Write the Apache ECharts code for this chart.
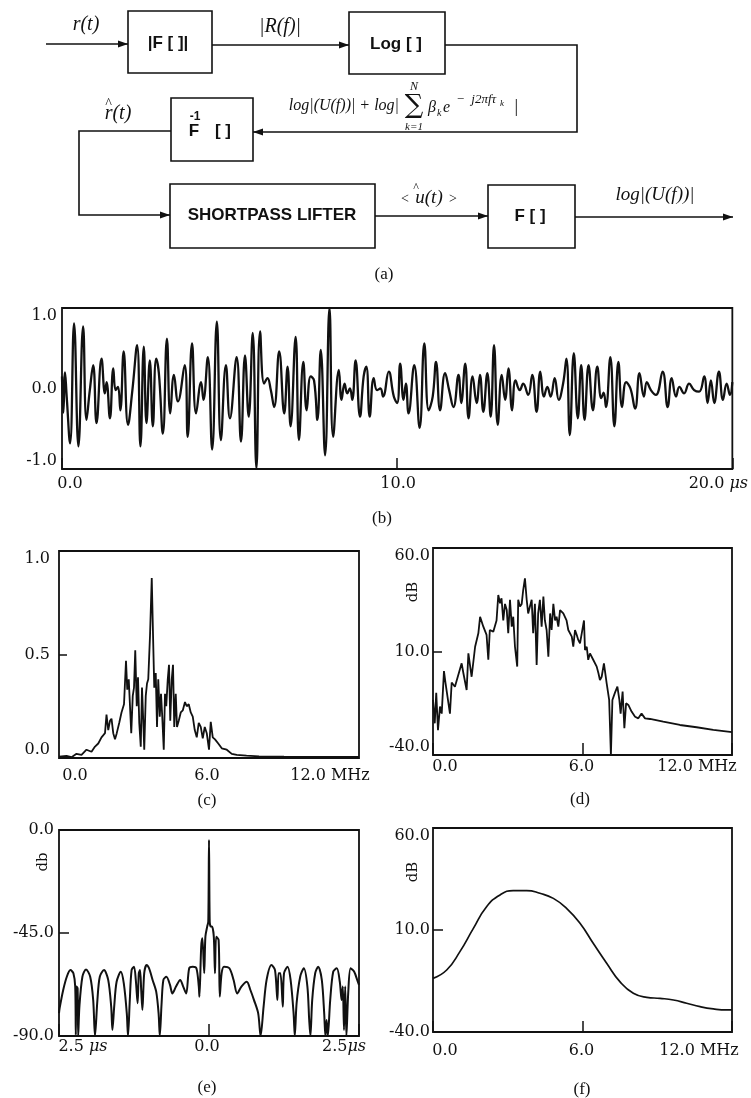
<!DOCTYPE html>
<html><head><meta charset="utf-8">
<script src="https://cdn.jsdelivr.net/npm/echarts@6/dist/echarts.min.js"></script>
<style>html,body{margin:0;padding:0;background:#fff}#c{width:751px;height:1098px}</style>
</head><body><div id="c"></div>
<script>
// ---------------- data ----------------
// (b) received signal r(t), time in microseconds
const bTime = [0.00,0.04,0.09,0.14,0.24,0.36,0.49,0.63,0.73,0.83,0.93,1.03,1.18,1.28,1.33,1.43,1.53,1.60,1.67,1.74,1.84,1.97,2.10,2.24,2.34,2.44,2.52,2.62,2.71,2.81,2.89,3.01,3.13,3.23,3.34,3.46,3.66,3.75,3.88,4.00,4.15,4.22,4.35,4.48,4.62,4.74,4.89,5.01,5.21,5.34,5.46,5.57,5.69,5.80,5.91,6.03,6.13,6.23,6.33,6.48,6.63,6.73,6.82,6.97,7.07,7.20,7.30,7.42,7.52,7.62,7.72,7.85,7.98,8.09,8.26,8.34,8.43,8.51,8.59,8.66,8.76,8.89,9.00,9.08,9.18,9.30,9.40,9.50,9.58,9.75,9.90,10.00,10.09,10.19,10.26,10.34,10.51,10.67,10.81,10.94,11.06,11.16,11.28,11.43,11.55,11.68,11.83,11.91,12.03,12.13,12.25,12.37,12.47,12.57,12.69,12.79,12.89,13.00,13.12,13.22,13.32,13.43,13.53,13.66,13.76,13.91,14.03,14.16,14.27,14.38,14.48,14.58,14.70,14.82,14.95,15.05,15.15,15.27,15.39,15.49,15.59,15.71,15.84,15.97,16.09,16.16,16.23,16.36,16.48,16.60,16.71,16.83,16.96,17.10,17.23,17.36,17.45,17.57,17.72,17.92,18.07,18.19,18.32,18.42,18.56,18.71,18.86,19.01,19.16,19.26,19.36,19.46,19.60,19.72,19.83,19.93,20.00];
const bAmp = [0.15,-0.30,0.20,-0.10,-0.68,0.81,-0.72,0.77,-0.39,-0.02,0.29,-0.43,0.37,-0.06,0.08,-0.37,0.25,-0.02,0.02,-0.27,0.46,-0.45,-0.02,0.54,-0.72,0.52,-0.43,0.35,-0.47,0.37,0.19,-0.56,0.62,-0.31,0.17,-0.16,0.29,-0.60,0.56,-0.31,0.08,-0.14,0.39,-0.76,0.83,-0.64,0.29,-0.37,0.39,-0.66,0.41,-0.35,0.69,-0.99,0.71,0.06,0.13,-0.02,-0.23,0.46,-0.31,0.27,-0.47,0.64,-0.64,0.33,-0.27,0.15,0.10,-0.39,0.48,-0.83,1.00,-0.60,0.23,-0.14,0.06,-0.06,0.00,-0.14,0.35,-0.35,0.15,0.27,-0.35,0.13,-0.02,0.00,-0.10,0.21,-0.10,-0.18,0.31,-0.14,0.06,-0.31,0.29,-0.49,0.56,-0.27,-0.10,0.33,-0.27,0.19,-0.02,-0.23,0.17,-0.18,0.31,-0.37,0.15,-0.18,0.17,-0.29,0.19,-0.35,0.54,-0.45,0.17,-0.14,0.25,-0.27,0.10,-0.02,0.06,-0.08,0.17,-0.29,0.21,-0.10,0.02,-0.10,0.13,-0.14,0.06,0.37,-0.58,0.44,-0.37,0.29,-0.39,0.29,-0.27,0.27,-0.12,-0.05,-0.23,0.39,-0.47,0.33,-0.23,0.08,0.00,-0.25,0.19,-0.10,0.08,-0.02,-0.08,0.21,-0.23,0.13,-0.10,0.02,-0.06,0.06,-0.02,-0.04,0.15,-0.18,0.10,-0.18,0.21,-0.14,0.06,-0.08,0.08];

// (c) magnitude spectrum |R(f)|, MHz
const cFreq = [0,0.3,0.5,0.7,0.9,1.1,1.3,1.44,1.57,1.7,1.84,1.9,1.97,2.04,2.1,2.17,2.24,2.31,2.41,2.5,2.6,2.68,2.73,2.79,2.84,2.89,2.95,3.0,3.05,3.11,3.16,3.21,3.27,3.32,3.37,3.41,3.47,3.52,3.57,3.64,3.71,3.76,3.81,3.87,3.92,3.97,4.03,4.08,4.13,4.19,4.24,4.29,4.35,4.40,4.45,4.51,4.56,4.61,4.67,4.72,4.79,4.87,4.95,5.04,5.11,5.19,5.27,5.35,5.43,5.51,5.59,5.67,5.75,5.83,5.91,6.0,6.07,6.15,6.24,6.37,6.51,6.71,6.91,7.11,7.5,8.0,9.0,10.0,11.0,12.0];
const cMag = [0.006,0.01,0.004,0.02,0.015,0.04,0.03,0.055,0.07,0.10,0.12,0.21,0.135,0.18,0.19,0.12,0.09,0.12,0.17,0.22,0.26,0.47,0.33,0.38,0.25,0.12,0.30,0.34,0.52,0.25,0.39,0.17,0.055,0.34,0.18,0.04,0.30,0.36,0.38,0.59,0.87,0.60,0.34,0.41,0.15,0.38,0.20,0.31,0.20,0.04,0.31,0.25,0.38,0.45,0.18,0.38,0.45,0.15,0.31,0.15,0.18,0.22,0.23,0.27,0.25,0.26,0.22,0.20,0.135,0.10,0.17,0.15,0.095,0.15,0.12,0.04,0.175,0.10,0.09,0.07,0.047,0.04,0.02,0.015,0.011,0.008,0.006,0.005,0.005,0.005];

// (d) log spectrum, dB
const dFreq = [0,0.07,0.13,0.2,0.28,0.35,0.44,0.5,0.68,0.75,0.88,1.0,1.15,1.22,1.35,1.42,1.55,1.69,1.82,1.89,2.02,2.15,2.22,2.28,2.42,2.55,2.62,2.69,2.75,2.82,2.89,2.96,3.02,3.09,3.16,3.22,3.29,3.38,3.42,3.49,3.56,3.62,3.69,3.76,3.82,3.89,3.96,4.02,4.09,4.16,4.22,4.29,4.36,4.43,4.49,4.56,4.63,4.70,4.76,4.83,4.9,4.96,5.03,5.1,5.23,5.36,5.43,5.57,5.63,5.7,5.77,5.83,5.9,5.97,6.06,6.1,6.17,6.23,6.3,6.43,6.57,6.64,6.7,6.77,6.86,6.97,7.07,7.14,7.2,7.3,7.4,7.48,7.53,7.61,7.68,7.75,7.84,7.97,8.11,8.24,8.37,8.51,8.71,9.24,9.91,10.58,11.25,12.0];
const dLevel = [-13.4,-24.7,-10,-28,-16.6,-20,0.5,-5,-20,-5,-7,-2,4.3,-0.5,-8.6,9.1,-2.2,12.3,18.8,26.8,22,18,6,20.4,19.6,25,37.3,33.3,35.7,25,33,30,18.8,35,22,26.8,12.3,2.7,35,31.7,33,39.7,45.3,35,28.4,31.7,35,18.8,33,3.5,28.4,35,22,36.5,25,20.4,7.5,28.4,20.4,33,25,26.8,22,30,28.4,25,20.4,17.2,12.3,20.4,18,15.6,14,18.8,25,10.7,12.3,6,9.1,6,2.7,-0.5,-3.8,-2.2,4.3,-5.4,-13.4,-40,-13.4,-10,-7,-13.4,-20,-9.4,-27,-15,-15.8,-19,-21.5,-22.3,-20,-22.3,-22.6,-23.9,-25.5,-26.6,-27.9,-29];

// (e) correlation, db, time in microseconds
const eTime = [-2.5,-2.49,-2.43,-2.37,-2.31,-2.26,-2.23,-2.22,-2.21,-2.19,-2.18,-2.16,-2.11,-2.05,-1.98,-1.93,-1.9,-1.86,-1.82,-1.75,-1.68,-1.63,-1.61,-1.58,-1.54,-1.47,-1.42,-1.37,-1.35,-1.32,-1.29,-1.25,-1.22,-1.19,-1.17,-1.15,-1.13,-1.11,-1.08,-1.04,-1.0,-0.94,-0.88,-0.84,-0.82,-0.79,-0.76,-0.71,-0.65,-0.61,-0.55,-0.48,-0.43,-0.38,-0.33,-0.27,-0.21,-0.17,-0.16,-0.13,-0.11,-0.08,-0.06,-0.03,-0.012,0,0.012,0.03,0.05,0.08,0.1,0.12,0.16,0.18,0.21,0.25,0.34,0.41,0.47,0.54,0.63,0.69,0.75,0.82,0.86,0.91,0.96,1.04,1.1,1.14,1.16,1.19,1.23,1.25,1.31,1.36,1.41,1.43,1.46,1.52,1.58,1.64,1.67,1.69,1.72,1.77,1.82,1.88,1.92,1.94,1.96,1.98,2.02,2.07,2.13,2.18,2.21,2.23,2.25,2.27,2.29,2.32,2.36,2.42,2.47,2.5];
const eLevel = [-80,-77.9,-69.9,-64.1,-61.2,-62.6,-68.4,-89.6,-68.4,-69.2,-90,-77.2,-64.1,-60.9,-64.1,-74.3,-90,-74.3,-64.1,-61.2,-65.5,-77.2,-87.4,-77.2,-66.3,-61.9,-67,-80.1,-90,-74.3,-61.2,-59.7,-65.5,-75.7,-62.6,-61.2,-69.9,-78.6,-62.6,-59,-60.4,-65.5,-70.6,-80.1,-90,-75.7,-65.5,-64.1,-67.7,-71.4,-68.4,-65.5,-68.4,-71.4,-60.4,-59.7,-60.4,-68.4,-72.8,-51,-47.3,-62.6,-46.6,-42.2,-40,-4.4,-40,-42.2,-42.2,-46.6,-62.6,-46.6,-48,-72.8,-62.6,-59.7,-60.4,-65.5,-71.4,-68.4,-66.3,-69.9,-74.3,-80.1,-90,-77.2,-65.5,-59,-61.2,-74.3,-62.6,-62.6,-77.2,-62.6,-59.7,-65.5,-80.1,-90,-75.7,-64.1,-60.4,-68.4,-83,-90,-74.3,-62.6,-59.7,-65.5,-80.1,-90,-83,-90,-74.3,-61.9,-60.4,-66.3,-74.3,-68.4,-87.4,-68.4,-90,-71.4,-60.4,-61.9,-65.5,-67.7];

// (f) estimated wavelet spectrum, dB
const fFreq = [0,0.55,1.08,1.62,2.15,2.69,3.22,3.76,4.29,4.83,5.36,5.9,6.43,6.97,7.5,8.04,8.58,9.11,9.65,10.18,10.72,11.25,11.79,12];
const fLevel = [-13.7,-9.6,-0.6,10.8,21.4,27.2,29.3,29.3,28,25.5,20.6,13.3,3.5,-6.3,-15.3,-21,-23,-23.5,-24.3,-25.9,-27.6,-28.7,-29.2,-29.2];

// tick label texts
const bXLabels = ['0.0', '10.0', '20.0 '];
const freqXLabels = ['0.0', '6.0', '12.0 '];
const eXLabels = ['2.5 ', '0.0', '2.5'];
const usUnit = 'μs';
const mhzUnit = 'MHz';

// ---------------- chart ----------------
const K = '#111';
const SERIF = 'DejaVu Serif';
const zip = (a, b) => a.map((v, i) => [v, b[i]]);

function xLabel(list, margin) {
  const rich = {};
  list.forEach((L, i) => {
    L.parts.forEach((p, j) => {
      const pad = [0, 0, 0, 0];
      if (L.shift > 0 && j === 0) pad[3] = 2 * L.shift;
      if (L.shift < 0 && j === L.parts.length - 1) pad[1] = -2 * L.shift;
      rich['t' + i + '_' + j] = { fontFamily: SERIF, fontSize: 16, color: K,
        fontStyle: p[1] ? 'italic' : 'normal', padding: pad };
    });
  });
  return {
    show: true, margin: margin, color: K, fontFamily: SERIF, fontSize: 16,
    showMinLabel: true, showMaxLabel: true, hideOverlap: false,
    formatter: function (val) {
      const i = list.findIndex(L => Math.abs(L.v - val) < 1e-6);
      if (i < 0) return '';
      return list[i].parts.map((p, j) => '{t' + i + '_' + j + '|' + p[0] + '}').join('');
    },
    rich: rich
  };
}
function yLabel(margin, vmin, vmax) {
  return { show: true, margin: margin, color: K, fontFamily: SERIF, fontSize: 16,
    showMinLabel: true, showMaxLabel: true, hideOverlap: false,
    verticalAlignMinLabel: vmin, verticalAlignMaxLabel: vmax,
    formatter: v => v.toFixed(1) };
}
const tick = (len) => ({ show: len > 0, inside: true, length: len, lineStyle: { color: K, width: 1.5 } });
const noLine = { show: false, onZero: false };
const noSplit = { show: false };

const grids = [
  { left: 62, top: 308, width: 673, height: 161 },
  { left: 59, top: 551, width: 300, height: 207 },
  { left: 433, top: 548, width: 299, height: 207 },
  { left: 59, top: 830, width: 300, height: 206 },
  { left: 433, top: 828, width: 299, height: 204 }
].map(g => Object.assign({ show: true, borderColor: K, borderWidth: 1.8, backgroundColor: 'transparent' }, g));

const xAxes = [
  { gridIndex: 0, min: 0, max: 20, interval: 10, axisTick: tick(11),
    axisLabel: xLabel([{ v: 0, parts: [[bXLabels[0], 0]], shift: 8 }, { v: 10, parts: [[bXLabels[1], 0]], shift: 1 }, { v: 20, parts: [[bXLabels[2], 0], [usUnit, 1]], shift: -14 }], 7) },
  { gridIndex: 1, min: 0, max: 12, interval: 6, axisTick: tick(0),
    axisLabel: xLabel([{ v: 0, parts: [[freqXLabels[0], 0]], shift: 16 }, { v: 6, parts: [[freqXLabels[1], 0]], shift: -2 }, { v: 12, parts: [[freqXLabels[2] + mhzUnit, 0]], shift: -29 }], 10) },
  { gridIndex: 2, min: 0, max: 12, interval: 6, axisTick: tick(12),
    axisLabel: xLabel([{ v: 0, parts: [[freqXLabels[0], 0]], shift: 12 }, { v: 6, parts: [[freqXLabels[1], 0]], shift: -1 }, { v: 12, parts: [[freqXLabels[2] + mhzUnit, 0]], shift: -35 }], 4) },
  { gridIndex: 3, min: -2.5, max: 2.5, interval: 2.5, axisTick: tick(12),
    axisLabel: xLabel([{ v: -2.5, parts: [[eXLabels[0], 0], [usUnit, 1]], shift: 24 }, { v: 0, parts: [[eXLabels[1], 0]], shift: -2 }, { v: 2.5, parts: [[eXLabels[2], 0], [usUnit, 1]], shift: -15 }], 3) },
  { gridIndex: 4, min: 0, max: 12, interval: 6, axisTick: tick(11),
    axisLabel: xLabel([{ v: 0, parts: [[freqXLabels[0], 0]], shift: 12 }, { v: 6, parts: [[freqXLabels[1], 0]], shift: -1 }, { v: 12, parts: [[freqXLabels[2] + mhzUnit, 0]], shift: -33 }], 11) }
].map(a => Object.assign({ type: 'value', position: 'bottom', axisLine: noLine, splitLine: noSplit }, a));

const yAxes = [
  { gridIndex: 0, min: -1, max: 1, interval: 1, axisTick: tick(0), axisLabel: yLabel(5, 'bottom', 'top') },
  { gridIndex: 1, min: 0, max: 1, interval: 0.5, axisTick: tick(8), axisLabel: yLabel(9, 'bottom', 'top') },
  { gridIndex: 2, min: -40, max: 60, interval: 50, axisTick: tick(9), axisLabel: yLabel(3, 'bottom', 'top') },
  { gridIndex: 3, min: -90, max: 0, interval: 45, axisTick: tick(10), axisLabel: yLabel(5, 'middle', 'middle') },
  { gridIndex: 4, min: -40, max: 60, interval: 50, axisTick: tick(10), axisLabel: yLabel(3, 'middle', 'top') }
].map(a => Object.assign({ type: 'value', position: 'left', axisLine: noLine, splitLine: noSplit }, a));

function line(i, data, width, smooth) {
  return { type: 'line', xAxisIndex: i, yAxisIndex: i, data: data, showSymbol: false, symbol: 'none',
    smooth: smooth, lineStyle: { color: K, width: width }, silent: true, clip: true };
}
const series = [
  line(0, zip(bTime, bAmp), 2.3, 0.45),
  line(1, zip(cFreq, cMag), 1.8, false),
  line(2, zip(dFreq, dLevel), 1.8, false),
  line(3, zip(eTime, eLevel), 2, 0.3),
  line(4, zip(fFreq, fLevel), 1.7, true)
];

// ---------------- block diagram (a) and captions ----------------
const LW = 1.6;
const SANS = '600 17px "Liberation Sans"';
const MATH = 'italic 20px "Liberation Serif"';
function box(x, y, w, h) { return { type: 'rect', shape: { x, y, width: w, height: h }, style: { fill: 'none', stroke: K, lineWidth: LW } }; }
function poly(points) { return { type: 'polyline', shape: { points }, style: { fill: 'none', stroke: K, lineWidth: LW } }; }
function arrowR(x, y) { return { type: 'polygon', shape: { points: [[x, y], [x - 10, y - 3.5], [x - 10, y + 3.5]] }, style: { fill: K } }; }
function arrowL(x, y) { return { type: 'polygon', shape: { points: [[x, y], [x + 10, y - 3.5], [x + 10, y + 3.5]] }, style: { fill: K } }; }
function txt(x, y, text, font, align) { return { type: 'text', style: { x, y, text, font, fill: K, textAlign: align || 'center', textVerticalAlign: 'middle' } }; }
function vtxt(x, y, text, font) { return { type: 'text', x: x, y: y, rotation: Math.PI / 2, style: { x: 0, y: 0, text, font, fill: K, textAlign: 'center', textVerticalAlign: 'middle' } }; }

const graphic = [
  poly([[46, 44], [128, 44]]), arrowR(128, 44),
  txt(86, 25, 'r(t)', MATH),
  box(128, 11, 84, 62), txt(168, 43, '|F [ ]|', SANS),
  poly([[212, 45], [349, 45]]), arrowR(349, 45),
  txt(280, 27, '|R(f)|', MATH),
  box(349, 12, 96, 62), txt(396, 44, 'Log [ ]', SANS),
  poly([[445, 45], [577, 45], [577, 132], [253, 132]]), arrowL(253, 132),
  box(171, 98, 82, 63),
  txt(194, 131, 'F', SANS), txt(195, 117, '-1', '600 12px "Liberation Sans"'), txt(223, 131, '[ ]', SANS),
  txt(118, 114, 'r(t)', MATH), txt(108, 104, '^', 'italic 14px "Liberation Serif"'),
  // equation
  txt(399, 106, 'log|(U(f))| + log|', 'italic 16px "Liberation Serif"', 'right'),
  txt(414, 106, '∑', '26px "DejaVu Serif"'),
  txt(414, 87, 'N', 'italic 12px "Liberation Serif"'),
  txt(414, 127, 'k=1', 'italic 11px "Liberation Serif"'),
  txt(428, 108, 'β', 'italic 16px "Liberation Serif"', 'left'),
  txt(437, 113, 'k', 'italic 10px "Liberation Serif"', 'left'),
  txt(443, 108, 'e', 'italic 16px "Liberation Serif"', 'left'),
  txt(456, 100, '−  j2πfτ', 'italic 13px "Liberation Serif"', 'left'),
  txt(500, 104, 'k', 'italic 9px "Liberation Serif"', 'left'),
  txt(516, 107, '|', 'italic 18px "Liberation Serif"'),
  poly([[171, 131], [79, 131], [79, 215], [170, 215]]), arrowR(170, 215),
  box(170, 184, 205, 64), txt(272, 215, 'SHORTPASS LIFTER', SANS),
  poly([[375, 216], [488, 216]]), arrowR(488, 216),
  txt(405, 199, '<', '14px "Liberation Serif"'), txt(429, 198, 'u(t)', 'italic 19px "Liberation Serif"'), txt(453, 199, '>', '14px "Liberation Serif"'),
  txt(416, 188, '^', '12px "Liberation Serif"'),
  box(488, 185, 87, 63), txt(530, 216, 'F [ ]', SANS),
  poly([[575, 217], [733, 217]]), arrowR(733, 217),
  txt(655, 195, 'log|(U(f))|', 'italic 19px "Liberation Serif"'),
  // captions
  txt(384, 275, '(a)', '17px "Liberation Serif"'),
  txt(382, 519, '(b)', '17px "Liberation Serif"'),
  txt(207, 801, '(c)', '17px "Liberation Serif"'),
  txt(580, 800, '(d)', '17px "Liberation Serif"'),
  txt(207, 1088, '(e)', '17px "Liberation Serif"'),
  txt(582, 1090, '(f)', '17px "Liberation Serif"'),
  // axis unit names
  vtxt(413, 592, 'dB', '15px "DejaVu Serif"'),
  vtxt(413, 872, 'dB', '15px "DejaVu Serif"'),
  vtxt(43, 862, 'db', '15px "DejaVu Serif"')
];

const chart = echarts.init(document.getElementById('c'), null, { renderer: 'canvas' });
chart.setOption({
  animation: false,
  backgroundColor: '#fff',
  grid: grids, xAxis: xAxes, yAxis: yAxes, series: series, graphic: graphic
});
</script>
</body></html>
